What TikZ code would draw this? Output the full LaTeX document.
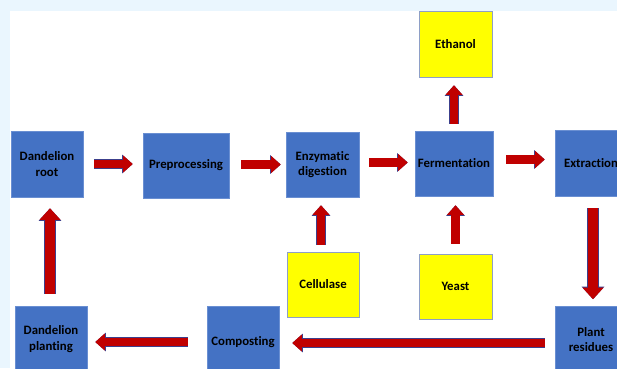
\documentclass[tikz,border=0pt]{standalone}
\usepackage{fontspec}
\setmainfont[Ligatures=NoCommon]{Carlito}
\usetikzlibrary{arrows.meta}
\definecolor{boxblue}{HTML}{4472C4}
\definecolor{boxedge}{HTML}{6A8FD2}
\definecolor{boxyellow}{HTML}{FFFF00}
\definecolor{yellowedge}{HTML}{8E9FC6}
\definecolor{arrowred}{HTML}{C00000}
\definecolor{arrowedge}{HTML}{3C3F8C}
\definecolor{paleblue}{HTML}{EAF6FE}
\tikzset{
  box/.style={rectangle, minimum width=72pt, minimum height=66pt, align=center,
    font=\bfseries\fontsize{12.8}{15.5}\selectfont, line width=0.6pt, inner sep=2pt},
  procbox/.style={box, fill=boxblue, draw=boxedge},
  inputbox/.style={box, fill=boxyellow, draw=yellowedge},
  flow/.style={draw=arrowred, line width=8.5pt,
    -{Triangle[width=17pt,length=9.5pt,line width=0pt]},
    preaction={draw=arrowedge, line width=9.7pt, -{Triangle[width=18.6pt,length=10.5pt,line width=0pt]}}},
  bigflow/.style={draw=arrowred, line width=10pt,
    -{Triangle[width=21pt,length=11.5pt,line width=0pt]},
    preaction={draw=arrowedge, line width=11.2pt, -{Triangle[width=22.6pt,length=12.5pt,line width=0pt]}}}
}
\begin{document}
\begin{tikzpicture}[x=1pt, y=-1pt]
    \useasboundingbox (0,0) rectangle (617,368);
    \clip (0,0) rectangle (617,368);
    \fill[paleblue] (0,0) rectangle (617,368);
    \fill[white] (10,11) rectangle (617,368);

    % main line
    \node[procbox] (root) at (47,164) {Dandelion\\root};
    \node[procbox, minimum width=86pt, minimum height=65pt] (prep) at (186,165.5) {Preprocessing};
    \node[procbox, minimum width=73pt, minimum height=65pt] (enzyme) at (322.5,164.5) {Enzymatic\\digestion};
    \node[procbox, minimum width=78pt, minimum height=65pt] (ferment) at (454,163.5) {Fermentation};
    \node[procbox] (extract) at (591,163) {Extraction};

    % inputs and product
    \node[inputbox, minimum width=73pt] (ethanol) at (455.5,44) {Ethanol};
    \node[inputbox, minimum height=65pt] (cellulase) at (323,284.5) {Cellulase};
    \node[inputbox, minimum width=73pt, minimum height=65pt] (yeast) at (455.5,286.5) {Yeast};

    % return line
    \node[procbox] (planting) at (51,339) {Dandelion\\planting};
    \node[procbox, minimum height=72pt] (compost) at (243,342) {Composting};
    \node[procbox] (residues) at (591,339.5) {Plant\\residues};

    \draw[flow, shorten <=11pt, shorten >=10pt] (root.east) -- (root.east -| prep.west);
    \draw[flow, shorten <=12pt, shorten >=5pt] ([yshift=1pt]prep.east) -- ([yshift=1pt]prep.east -| enzyme.west);
    \draw[flow, shorten <=10pt, shorten >=7pt] ([yshift=2pt]enzyme.east) -- ([yshift=2pt]enzyme.east -| ferment.west);
    \draw[flow, shorten <=13pt, shorten >=10pt] ([yshift=4pt]ferment.east) -- ([yshift=4pt]ferment.east -| extract.west);

    \draw[flow, shorten <=7pt, shorten >=8pt] (ferment.north) -- (ferment.north |- ethanol.south);
    \draw[flow, shorten <=7pt, shorten >=8pt] ([xshift=-2pt]cellulase.north) -- ([xshift=-2pt]cellulase.north |- enzyme.south);
    \draw[flow, shorten <=10pt, shorten >=9pt] (yeast.north) -- (yeast.north |- ferment.south);

    \draw[bigflow, shorten <=12pt, shorten >=7pt] ([xshift=2pt]extract.south) -- ([xshift=2pt]extract.south |- residues.north);
    \draw[flow, shorten <=10pt, shorten >=13pt] ([yshift=-3.5pt]residues.west) -- ([yshift=-3.5pt]residues.west -| compost.east);
    \draw[flow, shorten <=19pt, shorten >=8pt] (compost.west) -- (compost.west -| planting.east);
    \draw[bigflow, shorten <=12pt, shorten >=11pt] ([xshift=-1pt]planting.north) -- ([xshift=-1pt]planting.north |- root.south);
\end{tikzpicture}
\end{document}
